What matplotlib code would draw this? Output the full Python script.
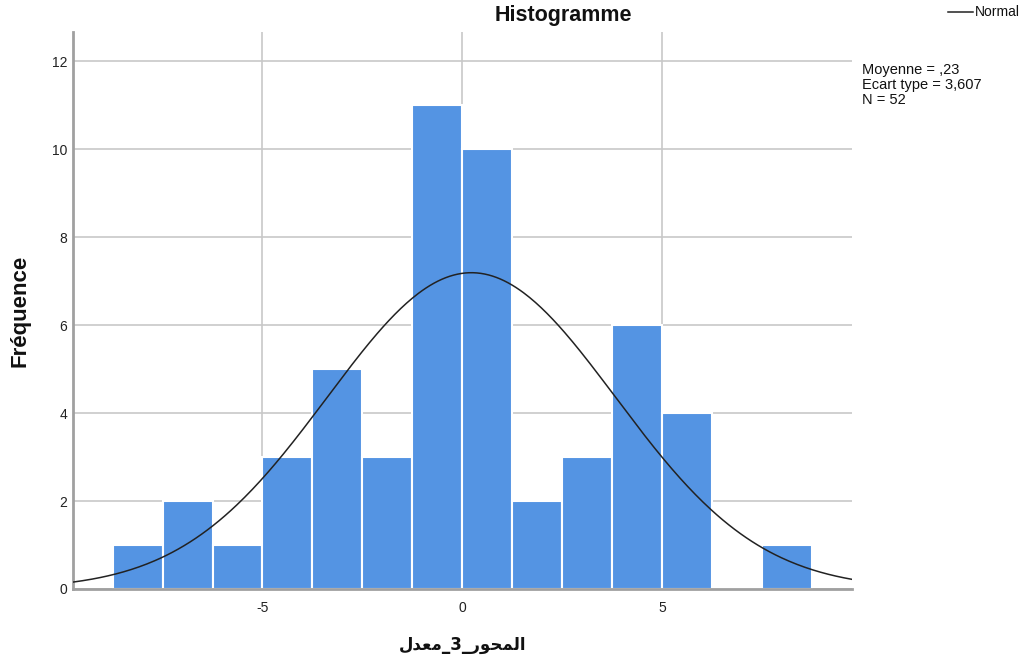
import numpy as np
import matplotlib
matplotlib.use("Agg")
import matplotlib.pyplot as plt
from matplotlib.lines import Line2D

# Data
bin_edges = [-8.75, -7.5, -6.25, -5.0, -3.75, -2.5, -1.25, 0.0, 1.25, 2.5, 3.75, 5.0, 6.25, 7.5, 8.75]
counts = [1, 2, 1, 3, 5, 3, 11, 10, 2, 3, 6, 4, 0, 1]
mean_val = 0.23
sd_val = 3.607
n_val = 52
x_ticks = [-5, 0, 5]
y_ticks = [0, 2, 4, 6, 8, 10, 12]

plt.rcParams['font.family'] = ['Liberation Sans', 'DejaVu Sans']

W, H = 1021, 660
fig = plt.figure(figsize=(W / 100, H / 100), dpi=100)
ax = fig.add_axes([72.7 / W, (H - 589) / H, (851.7 - 72.7) / W, (589 - 32) / H])

edges = np.array(bin_edges)
widths = np.diff(edges)
ax.bar(edges[:-1], counts, width=widths, align='edge', color='#5494E3',
       edgecolor='white', linewidth=1.5, zorder=2)

xs = np.linspace(-9.75, 9.75, 400)
bw = widths[0]
ys = n_val * bw / (sd_val * np.sqrt(2 * np.pi)) * np.exp(-0.5 * ((xs - mean_val) / sd_val) ** 2)
ax.plot(xs, ys, color='#222222', linewidth=1.1, zorder=3)

ax.set_xlim(-9.75, 9.75)
ax.set_ylim(0, 12.66)
ax.set_xticks(x_ticks)
ax.set_xticklabels([str(t) for t in x_ticks])
ax.set_yticks(y_ticks)
ax.tick_params(axis='y', length=0, labelsize=10, colors='#222222', pad=4)
ax.tick_params(axis='x', length=0, labelsize=10, colors='#222222', pad=9)
ax.grid(True, color='#c8c8c8', linewidth=1.2, zorder=0)
ax.set_axisbelow(True)
for s in ['top', 'right']:
    ax.spines[s].set_visible(False)
for s in ['left', 'bottom']:
    ax.spines[s].set_color('#a0a0a0')
    ax.spines[s].set_linewidth(2)

# Arabic label (pre-shaped presentation forms)
arabic_label = "\uFEDD\uFEAA\uFECC\uFEE3_3_\uFEAD\uFEEE\uFEA4\uFEE4\uFEDF\uFE8D"
fig.text(463 / W, 1 - 645 / H, arabic_label, ha='center', va='center',
         fontsize=12, fontweight='bold', family=['DejaVu Sans'], color='#111111')

fig.text(20 / W, 1 - 311 / H, 'Fréquence', rotation=90, ha='center', va='center',
         fontsize=16, fontweight='bold', color='#111111')

fig.text(563 / W, 1 - 15 / H, 'Histogramme', ha='center', va='center',
         fontsize=15.5, fontweight='bold', color='#111111')

fig.text(862 / W, 1 - 85 / H, 'Moyenne = ,23\nEcart type = 3,607\nN = 52',
         ha='left', va='center', fontsize=10.5, linespacing=1.05, color='#111111')

fig.lines.append(Line2D([948 / W, 973 / W], [1 - 12 / H, 1 - 12 / H],
                        transform=fig.transFigure, color='#222222', linewidth=1.1))
fig.text(975 / W, 1 - 12 / H, 'Normal', ha='left', va='center', fontsize=10, color='#111111')

fig.savefig('out.png', dpi=100)
